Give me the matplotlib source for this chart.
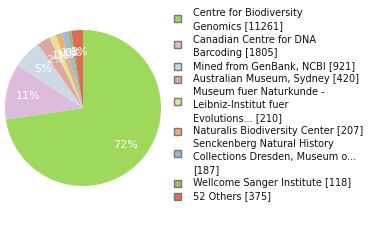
import numpy as np
import matplotlib
matplotlib.use("Agg")
import matplotlib.pyplot as plt
from matplotlib.patches import Rectangle

# data
labels = [
    "Centre for Biodiversity\nGenomics [11261]",
    "Canadian Centre for DNA\nBarcoding [1805]",
    "Mined from GenBank, NCBI [921]",
    "Australian Museum, Sydney [420]",
    "Museum fuer Naturkunde -\nLeibniz-Institut fuer\nEvolutions... [210]",
    "Naturalis Biodiversity Center [207]",
    "Senckenberg Natural History\nCollections Dresden, Museum o...\n[187]",
    "Wellcome Sanger Institute [118]",
    "52 Others [375]",
]
counts = [11261, 1805, 921, 420, 210, 207, 187, 118, 375]
colors = ["#9ed95c", "#ddbbdd", "#ccd9e5", "#dfa69b", "#dde39f",
          "#f1ad70", "#99bbe0", "#9bbb72", "#dd6b55"]

W, H = 380, 240
fig = plt.figure(figsize=(W / 100, H / 100), dpi=100)

# pie axes, centre ~ (83,108) px, radius ~78 px
ax = fig.add_axes([5 / W, 1 - 186 / H, 156 / W, 156 / H])
wedges, texts, autotexts = ax.pie(
    counts, colors=colors, startangle=90, counterclock=False,
    autopct=lambda p: "%d%%" % int(p), pctdistance=0.72,
    wedgeprops=dict(linewidth=0),
    textprops=dict(color="white", fontsize=8, family="DejaVu Sans"))
ax.set_xlim(-1, 1)
ax.set_ylim(-1, 1)
ax.set_aspect("equal")

# legend drawn by hand to mirror the wrapped layout
pitch = 13.05
line = 0
for lab, col in zip(labels, colors):
    parts = lab.split("\n")
    y0 = 12.5 + pitch * line
    sq = y0 + 1.5 + 4.5 * (len(parts) - 1)
    fig.add_artist(Rectangle((174 / W, 1 - (sq + 3.5) / H), 7 / W, 7 / H,
                             transform=fig.transFigure, facecolor=col,
                             edgecolor="#777777", linewidth=1))
    for i, txt in enumerate(parts):
        fig.text(193 / W, 1 - (y0 + pitch * i) / H, txt, fontsize=7,
                 va="center_baseline", ha="left", color="#111111")
    line += len(parts)

fig.savefig("out.png", dpi=100)
